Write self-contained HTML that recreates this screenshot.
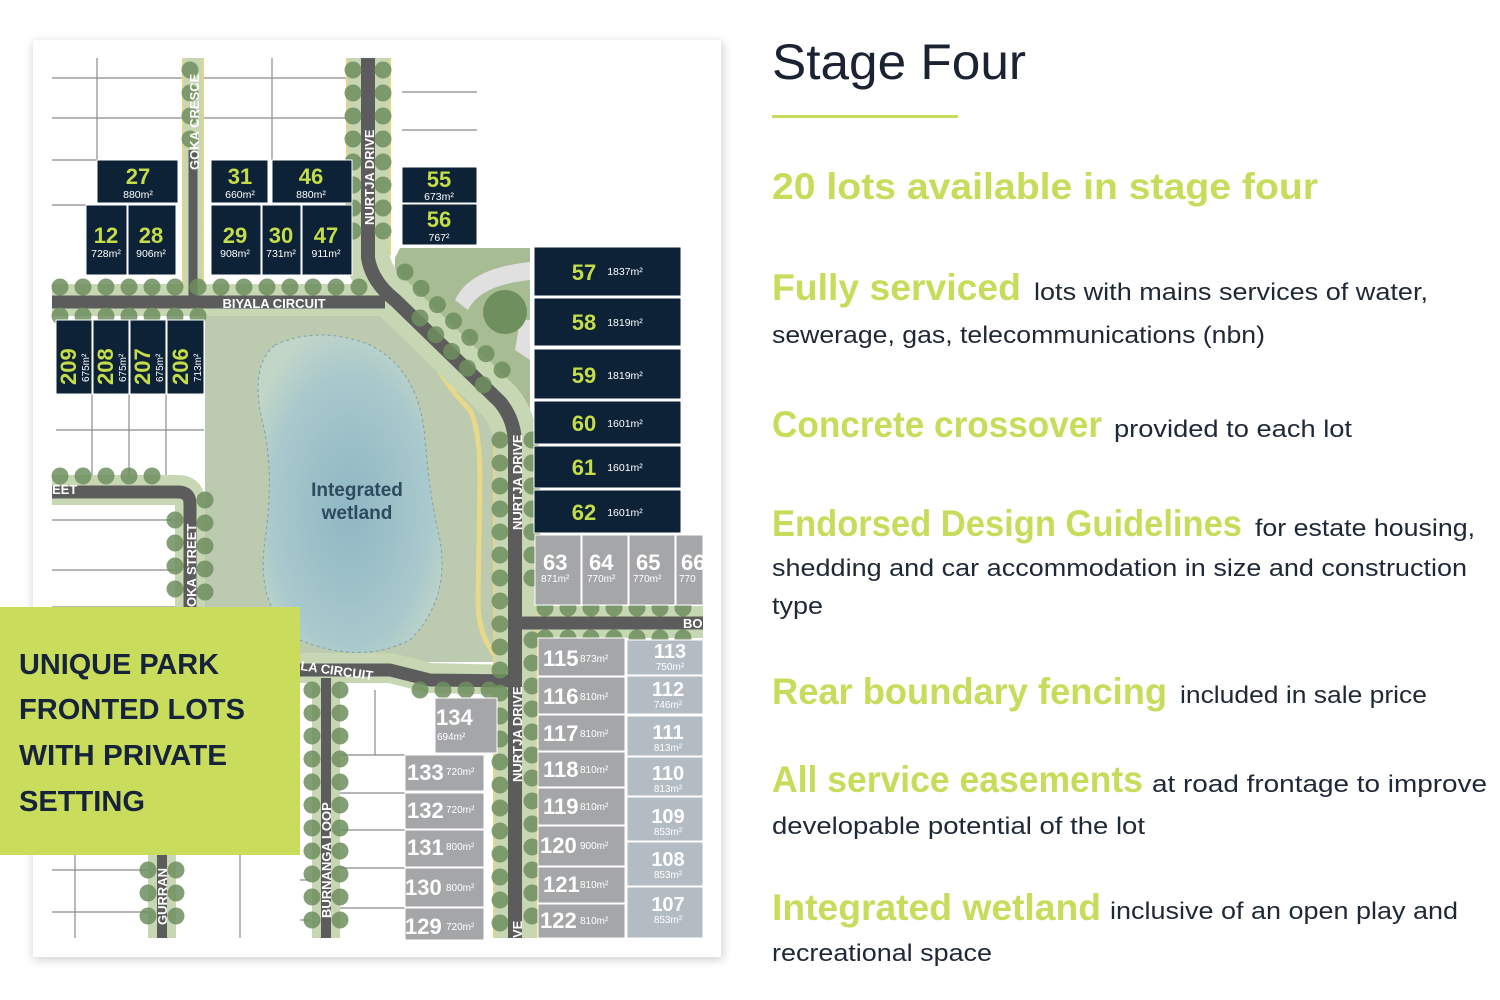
<!DOCTYPE html>
<html><head><meta charset="utf-8"><style>
html,body{margin:0;padding:0;background:#fff;}
svg{display:block;}
</style></head><body>
<svg width="1500" height="1000" viewBox="0 0 1500 1000" xmlns="http://www.w3.org/2000/svg" font-family="Liberation Sans, sans-serif">
<defs>
<filter id="sh" x="-5%" y="-5%" width="110%" height="110%"><feGaussianBlur stdDeviation="5"/></filter>
<radialGradient id="lake" cx="0.5" cy="0.55" r="0.6"><stop offset="0" stop-color="#8fb7c4"/><stop offset="0.7" stop-color="#a8c8cc"/><stop offset="1" stop-color="#c2d6c8"/></radialGradient>
</defs>
<rect x="33" y="42" width="690" height="918" fill="#000" opacity="0.18" filter="url(#sh)"/>
<rect x="33" y="40" width="688" height="917" fill="#fff"/>
<!-- grid lines -->
<g stroke="#8a8a8a" stroke-width="1.2" fill="none">
<line x1="52" y1="78" x2="352" y2="78"/><line x1="52" y1="118" x2="352" y2="118"/><line x1="52" y1="160" x2="97" y2="160"/><line x1="52" y1="205" x2="86" y2="205"/>
<line x1="97" y1="58" x2="97" y2="160"/><line x1="272" y1="58" x2="272" y2="160"/>
<line x1="402" y1="92" x2="477" y2="92"/><line x1="402" y1="130" x2="477" y2="130"/>
<line x1="56" y1="430" x2="204" y2="430"/><line x1="92" y1="394" x2="92" y2="480"/><line x1="129" y1="394" x2="129" y2="480"/><line x1="166" y1="394" x2="166" y2="480"/>
<line x1="52" y1="520" x2="180" y2="520"/><line x1="52" y1="570" x2="180" y2="570"/><line x1="52" y1="607" x2="180" y2="607"/>
<line x1="52" y1="870" x2="160" y2="870"/><line x1="52" y1="912" x2="160" y2="912"/><line x1="75" y1="855" x2="75" y2="938"/>
<line x1="340" y1="755" x2="405" y2="755"/><line x1="340" y1="793" x2="405" y2="793"/><line x1="340" y1="830" x2="405" y2="830"/><line x1="340" y1="868" x2="405" y2="868"/><line x1="340" y1="908" x2="405" y2="908"/>
<line x1="375" y1="690" x2="375" y2="755"/><line x1="300" y1="880" x2="310" y2="880"/><line x1="300" y1="920" x2="310" y2="920"/><line x1="240" y1="855" x2="240" y2="938"/>
</g>
<!-- park -->
<polygon points="400,248 530,248 530,440 505,405 395,300 395,258" fill="#a7bc93"/>
<path d="M455,300 Q470,268 530,262 L530,280 Q480,285 468,310 Z" fill="#e0e0e0"/>
<path d="M520,320 L530,320 L530,360 L515,350 Z" fill="#e0e0e0"/>
<circle cx="505" cy="312" r="22" fill="#6f8f5f"/>
<polygon points="205,310 390,310 500,420 500,662 385,662 300,655 300,612 205,612" fill="#bccab0"/>
<path d="M400,312 Q420,330 430,350 Q440,380 470,410 Q480,430 480,480 L478,600 Q478,640 500,660" fill="none" stroke="#e8d88a" stroke-width="5"/>
<path d="M275,345 Q320,325 370,345 Q420,370 425,440 Q430,500 440,540 Q450,600 410,640 Q360,665 300,640 Q255,610 265,540 Q275,470 262,420 Q250,365 275,345 Z" fill="url(#lake)" stroke="#7aa3b0" stroke-width="1" stroke-dasharray="3 3"/>
<text x="357" y="496" font-size="19" font-weight="bold" fill="#2d4a5e" text-anchor="middle">Integrated</text>
<text x="357" y="519" font-size="19" font-weight="bold" fill="#2d4a5e" text-anchor="middle">wetland</text>
<!-- roads -->
<g fill="none" stroke-linejoin="round">
<g stroke="#c8d7b3">
<path d="M368,58 L368,258 Q372,282 395,300 L500,402 Q515,420 515,445 L515,938" stroke-width="44"/>
<path d="M52,300 L385,300" stroke-width="32"/>
<path d="M193,58 L193,300" stroke-width="22"/>
<path d="M52,490 L178,490 Q190,490 190,502 L190,612" stroke-width="30"/>
<path d="M300,668 L390,668 L430,678 L515,680" stroke-width="30"/>
<path d="M326,678 L326,938" stroke-width="28"/>
<path d="M162,855 L162,938" stroke-width="28"/>
<path d="M515,622 L703,622" stroke-width="32"/>
</g>
<g stroke="#e3d68a" stroke-width="2">
<line x1="183" y1="58" x2="183" y2="290"/><line x1="203" y1="58" x2="203" y2="290"/>
<line x1="347" y1="58" x2="347" y2="260"/><line x1="390" y1="58" x2="390" y2="255"/>
<line x1="537" y1="440" x2="537" y2="938"/><line x1="494" y1="440" x2="494" y2="938"/>
</g>
<g stroke="#5c5c5c">
<path d="M368,58 L368,258 Q372,282 395,300 L500,402 Q515,420 515,445 L515,938" stroke-width="14"/>
<path d="M52,302 L385,302" stroke-width="13"/>
<path d="M193,150 L193,300" stroke-width="9"/>
<path d="M52,492 L178,492 Q190,492 190,504 L190,612" stroke-width="13"/>
<path d="M300,670 L390,670 L430,680 L515,681" stroke-width="13"/>
<path d="M326,678 L326,938" stroke-width="10"/>
<path d="M162,855 L162,938" stroke-width="10"/>
<path d="M515,623 L703,623" stroke-width="13"/>
</g>
<g stroke="#6e8f5e" stroke-width="17" stroke-linecap="round" stroke-dasharray="0 23" opacity="0.85">
<path d="M353,70 L353,250"/><path d="M383,70 L383,250"/>
<path d="M60,287 L380,287"/><path d="M60,316 L200,316"/>
<path d="M405,272 L510,378"/><path d="M420,318 L490,392"/>
<path d="M500,440 L500,938"/><path d="M532,440 L532,600"/><path d="M532,640 L532,938"/>
<path d="M60,476 L170,476"/><path d="M205,500 L205,600"/><path d="M175,520 L175,600"/>
<path d="M312,690 L312,938"/><path d="M340,690 L340,938"/>
<path d="M148,870 L148,938"/><path d="M176,870 L176,938"/>
<path d="M545,608 L700,608"/><path d="M545,638 L700,638"/>
<path d="M190,70 L190,140"/>
<path d="M420,690 L500,690"/>
</g>
</g>
<!-- road labels -->
<g fill="#fff" font-size="13" font-weight="bold">
<text x="274" y="308" text-anchor="middle">BIYALA CIRCUIT</text>
<text transform="translate(199,170) rotate(-90)">GOKA CRESCE</text>
<text transform="translate(374,225) rotate(-90)">NURTJA DRIVE</text>
<text transform="translate(522,530) rotate(-90)">NURTJA DRIVE</text>
<text transform="translate(522,782) rotate(-90)">NURTJA DRIVE</text>
<text transform="translate(522,938) rotate(-90)">VE</text>
<text transform="translate(196,607) rotate(-90)">OKA STREET</text>
<text transform="translate(331,918) rotate(-90)">BURNANGA LOOP</text>
<text transform="translate(167,925) rotate(-90)">GURRAN</text>
<text x="52" y="494">EET</text>
<text x="683" y="628">BO</text>
<text transform="translate(300,670) rotate(8)">LA CIRCUIT</text>
</g>
<!-- navy lots -->
<g fill="#0d2236" stroke="#fff" stroke-width="1">
<rect x="97" y="160" width="81" height="43"/><rect x="211" y="160" width="57" height="43"/><rect x="272" y="160" width="80" height="43"/>
<rect x="86" y="205" width="41" height="70"/><rect x="128" y="205" width="48" height="70"/><rect x="211" y="205" width="50" height="70"/><rect x="262" y="205" width="39" height="70"/><rect x="302" y="205" width="50" height="70"/>
<rect x="402" y="167" width="75" height="36"/><rect x="402" y="204" width="75" height="41"/>
<rect x="534" y="247" width="147" height="49"/><rect x="534" y="298" width="147" height="48"/><rect x="534" y="349" width="147" height="50"/><rect x="534" y="401" width="147" height="43"/><rect x="534" y="446" width="147" height="42"/><rect x="534" y="490" width="147" height="43"/>
<rect x="56" y="320" width="36" height="74"/><rect x="93" y="320" width="36" height="74"/><rect x="130" y="320" width="36" height="74"/><rect x="167" y="320" width="37" height="74"/>
</g>
<g fill="#c5dc4a" font-weight="bold" text-anchor="middle" font-size="22">
<text x="138" y="184">27</text><text x="240" y="184">31</text><text x="311" y="184">46</text>
<text x="106" y="243">12</text><text x="151" y="243">28</text><text x="235" y="243">29</text><text x="281" y="243">30</text><text x="326" y="243">47</text>
<text x="439" y="187">55</text><text x="439" y="227">56</text>
<text x="584" y="280">57</text><text x="584" y="330">58</text><text x="584" y="383">59</text><text x="584" y="431">60</text><text x="584" y="475">61</text><text x="584" y="520">62</text>
</g>
<g fill="#c5dc4a" font-weight="bold" font-size="22">
<text transform="translate(76,385) rotate(-90)">209</text><text transform="translate(113,385) rotate(-90)">208</text><text transform="translate(150,385) rotate(-90)">207</text><text transform="translate(188,385) rotate(-90)">206</text>
</g>
<g fill="#fff" font-size="10.5" text-anchor="middle">
<text x="138" y="198">880m²</text><text x="240" y="198">660m²</text><text x="311" y="198">880m²</text>
<text x="106" y="257">728m²</text><text x="151" y="257">906m²</text><text x="235" y="257">908m²</text><text x="281" y="257">731m²</text><text x="326" y="257">911m²</text>
<text x="439" y="200">673m²</text><text x="439" y="241">767²</text>
<text x="625" y="275">1837m²</text><text x="625" y="326">1819m²</text><text x="625" y="379">1819m²</text><text x="625" y="427">1601m²</text><text x="625" y="471">1601m²</text><text x="625" y="516">1601m²</text>
</g>
<g fill="#fff" font-size="10">
<text transform="translate(89,382) rotate(-90)">675m²</text><text transform="translate(126,382) rotate(-90)">675m²</text><text transform="translate(163,382) rotate(-90)">675m²</text><text transform="translate(201,382) rotate(-90)">713m²</text>
</g>
<!-- grey lots -->
<g fill="#a4a6a8" stroke="#fff" stroke-width="1">
<rect x="535" y="535" width="46" height="70"/><rect x="582" y="535" width="46" height="70"/><rect x="629" y="535" width="46" height="70"/><rect x="676" y="535" width="27" height="70"/>
<rect x="538" y="638" width="87" height="38"/><rect x="538" y="677" width="87" height="37"/><rect x="538" y="715" width="87" height="36"/><rect x="538" y="752" width="87" height="35"/><rect x="538" y="788" width="87" height="37"/><rect x="538" y="826" width="87" height="40"/><rect x="538" y="867" width="87" height="36"/><rect x="538" y="904" width="87" height="34"/>
<rect x="435" y="698" width="62" height="55"/><rect x="405" y="755" width="79" height="36"/><rect x="405" y="793" width="79" height="36"/><rect x="405" y="830" width="79" height="37"/><rect x="405" y="868" width="79" height="39"/><rect x="405" y="908" width="79" height="32"/>
</g>
<g fill="#b3bbc3" stroke="#fff" stroke-width="1">
<rect x="627" y="640" width="76" height="35"/><rect x="627" y="676" width="76" height="38"/><rect x="627" y="716" width="76" height="40"/><rect x="627" y="757" width="76" height="39"/><rect x="627" y="797" width="76" height="44"/><rect x="627" y="842" width="76" height="44"/><rect x="627" y="887" width="76" height="51"/>
</g>
<g fill="#fff" font-weight="bold" font-size="22">
<text x="543" y="570">63</text><text x="589" y="570">64</text><text x="636" y="570">65</text><text x="681" y="570">66</text>
<text x="543" y="666">115</text><text x="543" y="704">116</text><text x="543" y="741">117</text><text x="543" y="777">118</text><text x="543" y="814">119</text><text x="540" y="853">120</text><text x="543" y="892">121</text><text x="540" y="928">122</text>
<text x="407" y="780">133</text><text x="407" y="818">132</text><text x="407" y="855">131</text><text x="405" y="895">130</text><text x="405" y="934">129</text>
<text x="436" y="725">134</text>
</g>
<g fill="#fff" font-size="10">
<text x="541" y="582">871m²</text><text x="587" y="582">770m²</text><text x="633" y="582">770m²</text><text x="679" y="582">770</text>
<text x="580" y="662">873m²</text><text x="580" y="700">810m²</text><text x="580" y="737">810m²</text><text x="580" y="773">810m²</text><text x="580" y="810">810m²</text><text x="580" y="849">900m²</text><text x="580" y="888">810m²</text><text x="580" y="924">810m²</text>
<text x="446" y="775">720m²</text><text x="446" y="813">720m²</text><text x="446" y="850">800m²</text><text x="446" y="891">800m²</text><text x="446" y="930">720m²</text>
<text x="437" y="740">694m²</text>
</g>
<g fill="#fff" text-anchor="middle">
<g font-weight="bold" font-size="20"><text x="670" y="658">113</text><text x="668" y="696">112</text><text x="668" y="739">111</text><text x="668" y="780">110</text><text x="668" y="823">109</text><text x="668" y="866">108</text><text x="668" y="911">107</text></g>
<g font-size="10"><text x="670" y="670">750m²</text><text x="668" y="708">746m²</text><text x="668" y="751">813m²</text><text x="668" y="792">813m²</text><text x="668" y="835">853m²</text><text x="668" y="878">853m²</text><text x="668" y="923">853m²</text></g>
</g>
<!-- callout box -->
<rect x="0" y="607" width="300" height="248" fill="#c9dc5b"/>
<g fill="#16233a" font-size="29" font-weight="bold">
<text x="19" y="674" textLength="200" lengthAdjust="spacingAndGlyphs">UNIQUE PARK</text>
<text x="19" y="719" textLength="226" lengthAdjust="spacingAndGlyphs">FRONTED LOTS</text>
<text x="19" y="765" textLength="208" lengthAdjust="spacingAndGlyphs">WITH PRIVATE</text>
<text x="19" y="811" textLength="126" lengthAdjust="spacingAndGlyphs">SETTING</text>
</g>
<!-- right text -->
<text x="772" y="79" font-size="50" fill="#1b2333" textLength="254" lengthAdjust="spacingAndGlyphs">Stage Four</text>
<rect x="772" y="115" width="186" height="3" fill="#c8dc5c"/>
<g fill="#c8dc5c" font-size="37" font-weight="bold">
<text x="772" y="199" textLength="546" lengthAdjust="spacingAndGlyphs">20 lots available in stage four</text>
<text x="772" y="300" textLength="249" lengthAdjust="spacingAndGlyphs">Fully serviced</text>
<text x="772" y="437" textLength="330" lengthAdjust="spacingAndGlyphs">Concrete crossover</text>
<text x="772" y="536" textLength="470" lengthAdjust="spacingAndGlyphs">Endorsed Design Guidelines</text>
<text x="772" y="704" textLength="395" lengthAdjust="spacingAndGlyphs">Rear boundary fencing</text>
<text x="772" y="792" textLength="371" lengthAdjust="spacingAndGlyphs">All service easements</text>
<text x="772" y="920" textLength="329" lengthAdjust="spacingAndGlyphs">Integrated wetland</text>
</g>
<g fill="#1f2838" font-size="24">
<text x="1034" y="300" textLength="394" lengthAdjust="spacingAndGlyphs">lots with mains services of water,</text>
<text x="772" y="343" textLength="493" lengthAdjust="spacingAndGlyphs">sewerage, gas, telecommunications (nbn)</text>
<text x="1114" y="437" textLength="238" lengthAdjust="spacingAndGlyphs">provided to each lot</text>
<text x="1255" y="536" textLength="220" lengthAdjust="spacingAndGlyphs">for estate housing,</text>
<text x="772" y="576" textLength="695" lengthAdjust="spacingAndGlyphs">shedding and car accommodation in size and construction</text>
<text x="772" y="614" textLength="51" lengthAdjust="spacingAndGlyphs">type</text>
<text x="1180" y="703" textLength="247" lengthAdjust="spacingAndGlyphs">included in sale price</text>
<text x="1152" y="792" textLength="335" lengthAdjust="spacingAndGlyphs">at road frontage to improve</text>
<text x="772" y="834" textLength="373" lengthAdjust="spacingAndGlyphs">developable potential of the lot</text>
<text x="1110" y="919" textLength="348" lengthAdjust="spacingAndGlyphs">inclusive of an open play and</text>
<text x="772" y="961" textLength="220" lengthAdjust="spacingAndGlyphs">recreational space</text>
</g>
</svg>
</body></html>
